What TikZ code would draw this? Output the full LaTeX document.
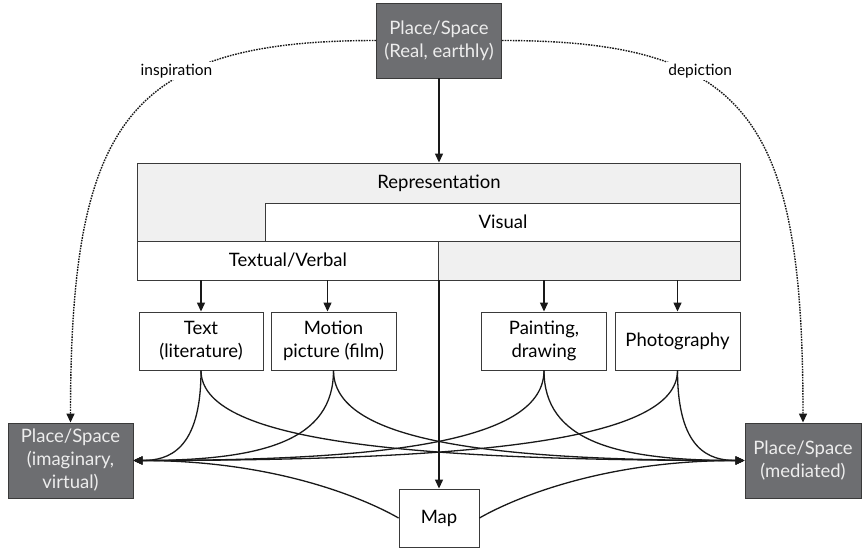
\documentclass[tikz,border=0pt]{standalone}
\usepackage{fontspec}
\setmainfont{Lato}
\usetikzlibrary{arrows.meta}

\definecolor{placegray}{HTML}{6D6E71}
\definecolor{repgray}{HTML}{F0F0F0}
\definecolor{linegray}{HTML}{3A3A3A}

\begin{document}
\begin{tikzpicture}
[
x=1pt, y=1pt,
every node/.style={font=\fontsize{18.5}{23}\selectfont, inner sep=0pt, align=center},
place/.style={draw=linegray, fill=placegray, text=white!93!black, minimum width=125pt, minimum height=75pt, line width=0.9pt},
medium/.style={draw=linegray, fill=white, minimum width=125pt, minimum height=58pt, line width=0.9pt},
layer/.style={draw=linegray, line width=0.9pt},
arr/.style={-{Triangle[length=9pt,width=8pt]}, line width=1.3pt, draw=black!90},
link/.style={arr, line width=1.4pt, dash pattern=on 1.6pt off 1.1pt},
note/.style={fill=white, inner sep=2pt, font=\fontsize{15.5}{17}\selectfont}
]
\useasboundingbox (0,0) rectangle (866,-548);

% places
\node[place] (real) at (439,-40.5) {Place/Space\\(Real, earthly)};
\node[place] (imag) at (70.5,-460.5) {Place/Space\\(imaginary,\\virtual)};
\node[place, minimum width=116pt] (medi) at (803,-460.5) {Place/Space\\(mediated)};

% representation layers
\node[layer, fill=repgray, minimum width=603pt, minimum height=117pt] (rep) at (439,-221.5) {};
\node (reptext) at (439,-183) {Representation};
\node[layer, fill=white, minimum width=475pt, minimum height=38pt] (vis) at (503,-222) {Visual};
\node[layer, fill=white, minimum width=301pt, minimum height=39pt] (tex) at (288,-260.5) {Textual/Verbal};

% media
\node[medium, minimum width=124pt] (txt) at (201,-341) {Text\\(literature)};
\node[medium] (mot) at (333.5,-341) {Motion\\picture (film)};
\node[medium] (pnt) at (544,-341) {Painting,\\drawing};
\node[medium] (pho) at (677.5,-341) {Photography};
\node[medium, minimum width=80pt] (map) at (439,-518) {Map};

% dotted links
\draw[link] (real.west) .. controls +(-247,0) and +(0,303) .. (imag.north)
  node[note, pos=0.36, yshift=7pt] (insp) {inspiration};
\draw[link] (real.east) .. controls +(247,0) and +(0,303) .. (medi.north)
  node[note, pos=0.36, yshift=7pt] (depi) {depiction};

% straight arrows
\draw[arr] (real) -- (rep);
\draw[arr] (txt.north |- rep.south) -- (txt.north);
\draw[arr] ([xshift=-6pt]mot.north |- rep.south) -- ([xshift=-6pt]mot.north);
\draw[arr] (pnt.north |- rep.south) -- (pnt.north);
\draw[arr] (pho.north |- rep.south) -- (pho.north);
\draw[arr] (map.north |- rep.south) -- (map.north);

% media to places
\draw[arr] (txt.south) to[out=-90, in=0, out distance=80pt, in distance=35pt]    (imag.east);
\draw[arr] (txt.south) to[out=-90, in=180, out distance=70pt, in distance=345pt] (medi.west);
\draw[arr] (mot.south) to[out=-90, in=0, out distance=70pt, in distance=130pt]   (imag.east);
\draw[arr] (mot.south) to[out=-90, in=180, out distance=70pt, in distance=260pt] (medi.west);
\draw[arr] (pnt.south) to[out=-90, in=0, out distance=70pt, in distance=260pt]   (imag.east);
\draw[arr] (pnt.south) to[out=-90, in=180, out distance=70pt, in distance=130pt] (medi.west);
\draw[arr] (pho.south) to[out=-90, in=0, out distance=70pt, in distance=345pt]   (imag.east);
\draw[arr] (pho.south) to[out=-90, in=180, out distance=80pt, in distance=35pt]  (medi.west);
\draw[arr] (map.west)  to[out=150, in=0, out distance=30pt, in distance=150pt]   (imag.east);
\draw[arr] (map.east)  to[out=30, in=180, out distance=30pt, in distance=150pt]  (medi.west);
\end{tikzpicture}
\end{document}
